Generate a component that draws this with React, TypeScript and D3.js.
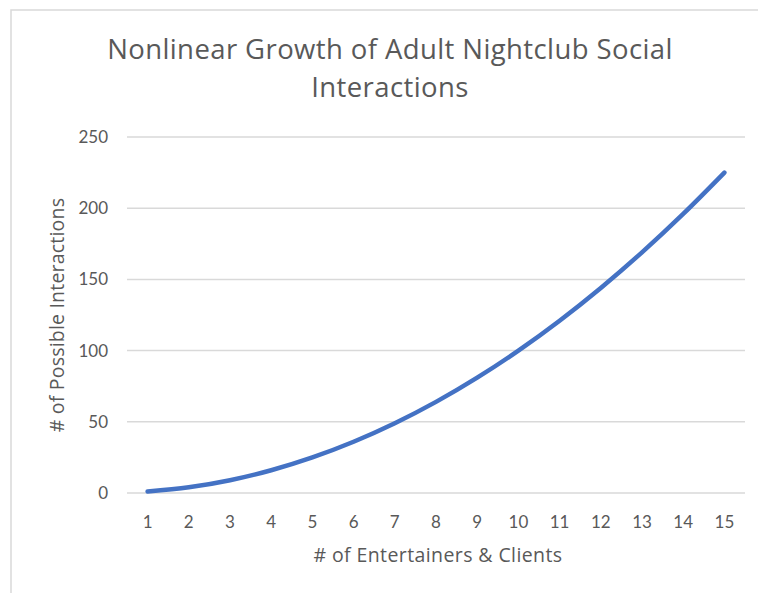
import React from "react";
import * as d3 from "d3";

const categories = ["1","2","3","4","5","6","7","8","9","10","11","12","13","14","15"];
const values = [1, 4, 9, 16, 25, 36, 49, 64, 81, 100, 121, 144, 169, 196, 225];
const yTicks = [0, 50, 100, 150, 200, 250];
const titleLines = ["Nonlinear Growth of Adult Nightclub Social", "Interactions"];
const xTitle = "# of Entertainers & Clients";
const yTitle = "# of Possible Interactions";

const W = 758, H = 593;
const plot = { left: 127, right: 745, top: 137, bottom: 493 };
const font = "Lato, 'Open Sans', sans-serif";
const titleFont = "'Open Sans', Lato, sans-serif";
const textColor = "#595959";

export default function App() {
  const x = d3.scaleBand<string>().domain(categories).range([plot.left, plot.right]);
  const y = d3.scaleLinear().domain([0, 250]).range([plot.bottom, plot.top]);
  const line = d3.line<number>()
    .x((_, i) => (x(categories[i]) as number) + x.bandwidth() / 2)
    .y((d) => y(d))
    .curve(d3.curveMonotoneX);
  return (
    <svg width={W} height={H} style={{ position: "absolute", left: 0, top: 0 }}>
      <rect x={0} y={0} width={W} height={H} fill="#fff" />
      <rect x={11} y={10} width={W + 20} height={H + 20} fill="#fff" stroke="#d9d9d9" strokeWidth={1.5} />
      {titleLines.map((t, i) => (
        <text key={i} x={390} y={59 + i * 38} textAnchor="middle" fontFamily={titleFont} fontSize={27.5} letterSpacing={0.4} fill={textColor}>{t}</text>
      ))}
      {yTicks.map((t) => (
        <g key={t}>
          <line x1={plot.left} x2={plot.right} y1={y(t)} y2={y(t)} stroke="#d9d9d9" strokeWidth={1.5} />
          <text x={108} y={y(t) + 6} textAnchor="end" fontFamily={font} fontSize={17} fill={textColor}>{t}</text>
        </g>
      ))}
      {categories.map((c) => (
        <text key={c} x={(x(c) as number) + x.bandwidth() / 2} y={528} textAnchor="middle" fontFamily={font} fontSize={17} fill={textColor}>{c}</text>
      ))}
      <text x={438} y={562} textAnchor="middle" fontFamily={titleFont} fontSize={19.5} letterSpacing={0.4} fill={textColor}>{xTitle}</text>
      <text transform={`translate(64,315) rotate(-90)`} textAnchor="middle" fontFamily={titleFont} fontSize={19.5} letterSpacing={0.2} fill={textColor}>{yTitle}</text>
      <path d={line(values) || ""} fill="none" stroke="#4472c4" strokeWidth={4.5} strokeLinecap="round" strokeLinejoin="round" />
    </svg>
  );
}
